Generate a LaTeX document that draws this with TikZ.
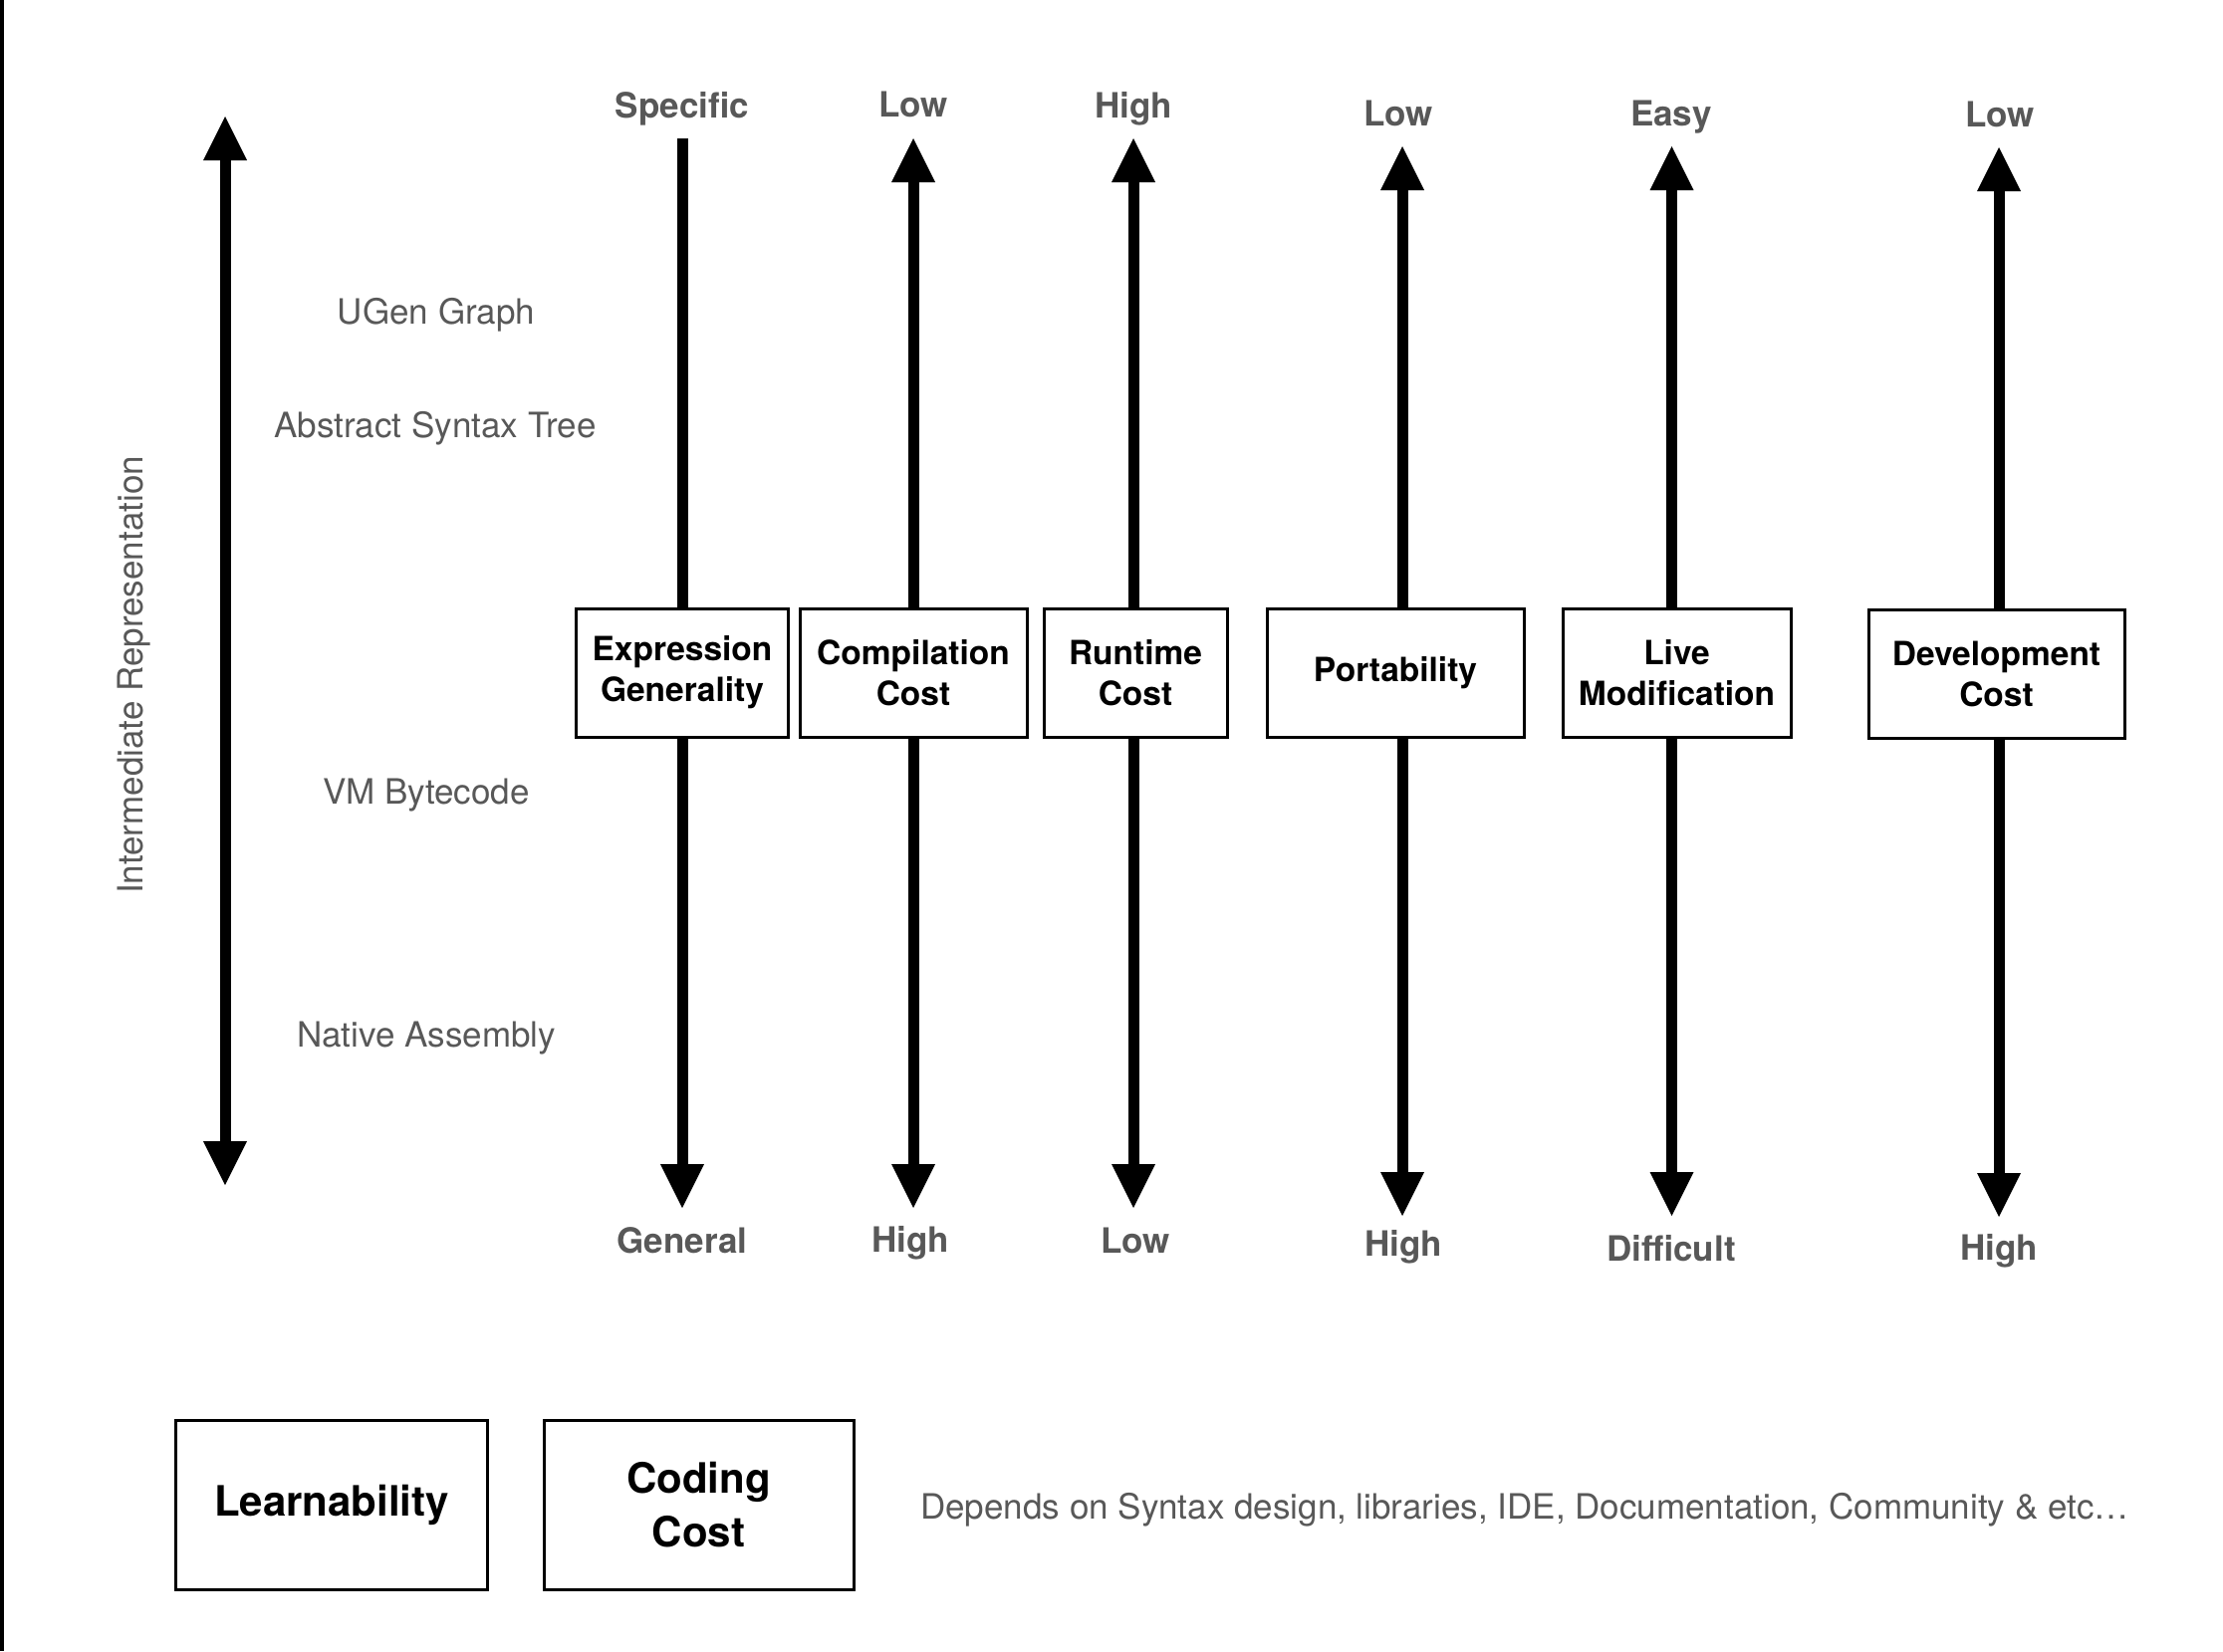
\documentclass[tikz,border=0pt]{standalone}
\usepackage{fontspec}
\setmainfont{TeX Gyre Heros}
\usetikzlibrary{arrows.meta}
\definecolor{labgray}{RGB}{88,88,88}
\begin{document}
\begin{tikzpicture}[x=1pt,y=-1pt,
  ahead/.tip={Triangle[width=44pt,length=44pt,line width=0pt]},
  shaft/.style={line width=11pt, line cap=butt},
  prop/.style={draw=black, line width=3pt, inner sep=0pt, align=center,
    font=\fontsize{33.5}{41}\selectfont\bfseries, text=black},
  bigbox/.style={draw=black, line width=3pt, inner sep=0pt, align=center,
    font=\fontsize{42}{54}\selectfont\bfseries, text=black},
  axlab/.style={font=\fontsize{35}{40}\selectfont\bfseries, text=labgray,
    text height=25.2pt, text depth=0pt, inner sep=0pt},
  lab/.style={font=\fontsize{35}{40}\selectfont, text=labgray,
    text height=25.2pt, text depth=0pt, inner sep=0pt}
]
\useasboundingbox (0,0) rectangle (2232,1658);
\fill[black] (0,0) rectangle (4,1658);

% left axis
\coordinate (irT) at (226,117);
\coordinate (irB) at (226,1190);
\draw[shaft, ahead-ahead] (irT) -- (irB);
\node[lab, rotate=90] (irlab) at (131,678) {Intermediate Representation};

\node[lab] (ugen) at (438,313) {UGen Graph};
\node[lab] (ast) at (437,427) {Abstract Syntax Tree};
\node[lab] (vm) at (428,795) {VM Bytecode};
\node[lab] (nat) at (428,1039) {Native Assembly};

% column 1
\node[prop, minimum width=213pt, minimum height=129pt] (b1) at (685,675.5) {Expression\\Generality};
\coordinate (t1) at (685,139);
\coordinate (d1) at (685,1213);
\draw[shaft] (b1.north -| t1) -- (t1);
\draw[shaft, -ahead] (b1.south -| d1) -- (d1);
\node[axlab] (l1t) at (685,106) {Specific};
\node[axlab] (l1b) at (685,1246) {General};

% column 2
\node[prop, minimum width=228pt, minimum height=129pt] (b2) at (917,675.5) {Compilation\\Cost};
\coordinate (t2) at (917,139);
\coordinate (d2) at (917,1213);
\draw[shaft, -ahead] (b2.north -| t2) -- (t2);
\draw[shaft, -ahead] (b2.south -| d2) -- (d2);
\node[axlab] (l2t) at (917,105) {Low};
\node[axlab] (l2b) at (914,1245) {High};

% column 3
\node[prop, minimum width=184pt, minimum height=129pt] (b3) at (1140,675.5) {Runtime\\Cost};
\coordinate (t3) at (1138,139);
\coordinate (d3) at (1138,1213);
\draw[shaft, -ahead] (b3.north -| t3) -- (t3);
\draw[shaft, -ahead] (b3.south -| d3) -- (d3);
\node[axlab] (l3t) at (1138,106) {High};
\node[axlab] (l3b) at (1140,1246) {Low};

% column 4
\node[prop, minimum width=258pt, minimum height=129pt] (b4) at (1401,675.5) {Portability};
\coordinate (t4) at (1408,147);
\coordinate (d4) at (1408,1221);
\draw[shaft, -ahead] (b4.north -| t4) -- (t4);
\draw[shaft, -ahead] (b4.south -| d4) -- (d4);
\node[axlab] (l4t) at (1404,114) {Low};
\node[axlab] (l4b) at (1409,1249) {High};

% column 5
\node[prop, minimum width=229pt, minimum height=129pt] (b5) at (1683.5,675.5) {Live\\Modification};
\coordinate (t5) at (1678.5,147);
\coordinate (d5) at (1678.5,1221);
\draw[shaft, -ahead] (b5.north -| t5) -- (t5);
\draw[shaft, -ahead] (b5.south -| d5) -- (d5);
\node[axlab] (l5t) at (1678,114) {Easy};
\node[axlab] (l5b) at (1678,1254) {Difficult};

% column 6
\node[prop, minimum width=257pt, minimum height=129pt] (b6) at (2004.5,676.5) {Development\\Cost};
\coordinate (t6) at (2007,148);
\coordinate (d6) at (2007,1222);
\draw[shaft, -ahead] (b6.north -| t6) -- (t6);
\draw[shaft, -ahead] (b6.south -| d6) -- (d6);
\node[axlab] (l6t) at (2008,115) {Low};
\node[axlab] (l6b) at (2007,1253) {High};

% bottom
\node[bigbox, minimum width=313pt, minimum height=170pt] (learn) at (333,1511) {Learnability};
\node[bigbox, minimum width=311pt, minimum height=170pt] (code) at (701.5,1511) {Coding\\Cost};
\node[lab, anchor=west, font=\fontsize{35}{40}\selectfont] (dep) at (924,1513) {Depends on Syntax design, libraries, IDE, Documentation, Community \& etc…};
\end{tikzpicture}
\end{document}
